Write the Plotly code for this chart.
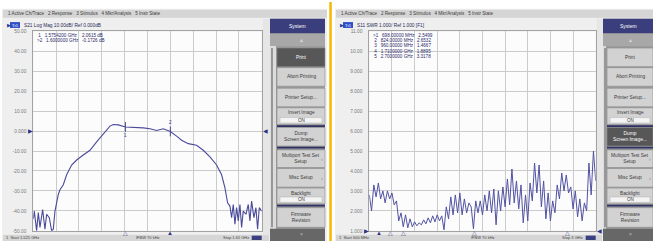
import numpy as np
import plotly.graph_objects as go

W, H = 653, 244

# ---------------- data ----------------
left_freq_ghz = [1.5250, 1.52555, 1.52682, 1.52774, 1.52865, 1.53011, 1.53138, 1.53230, 1.53376, 1.53503,
                 1.53594, 1.53686, 1.53868, 1.53959, 1.54142, 1.54324, 1.54598, 1.54871, 1.55236, 1.55601,
                 1.55966, 1.56330, 1.56695, 1.56878, 1.57151, 1.57542, 1.57972, 1.58519, 1.58884, 1.59249,
                 1.59614, 1.60000, 1.60343, 1.60617, 1.60982, 1.61438, 1.61802, 1.62167, 1.62532, 1.62806,
                 1.62988, 1.63134, 1.63262, 1.63353, 1.63444, 1.63535, 1.63626, 1.63718, 1.63809, 1.63900,
                 1.63991, 1.64137, 1.64265, 1.64356, 1.64447, 1.64575, 1.64684, 1.64775, 1.64867, 1.65000]
left_s21_db = [-44.0, -40.1, -50.0, -40.9, -48.3, -39.3, -49.2, -41.7, -43.4, -50.0,
               -49.2, -40.1, -31.8, -29.4, -26.9, -21.9, -17.0, -14.5, -12.0, -9.6,
               -5.4, -1.3, 2.5, 3.3, 3.1, 2.06, 2.0, 1.6, 1.2, 0.3,
               1.2, -0.17, -2.5, -4.6, -6.3, -7.1, -9.6, -12.9, -17.0, -21.9,
               -28.5, -36.0, -37.6, -43.4, -36.8, -46.7, -38.4, -45.0, -36.8, -48.3,
               -40.1, -41.7, -36.8, -45.0, -35.1, -43.4, -38.4, -49.2, -38.4, -40.1]
left_marker_freq_ghz = [1.57542, 1.60000]
left_marker_db = [2.0615, -0.1726]
left_start_ghz, left_stop_ghz = 1.525, 1.650
left_ytick_vals = [50, 40, 30, 20, 10, 0, -10, -20, -30, -40, -50]
left_ytick_text = ["50.00", "40.00", "30.00", "20.00", "10.00", "0.000",
                   "-10.00", "-20.00", "-30.00", "-40.00", "-50.00"]
left_readout = [" 1   1.5754200 GHz    2.0615 dB", ">2   1.6000000 GHz   -0.1726 dB"]

right_start_mhz, right_stop_mhz = 600, 3000
right_swr = [2.8, 2.0, 3.3, 2.7, 3.4, 2.6, 3.0, 2.4, 3.0, 2.6,
             2.9, 2.3, 2.5, 1.5, 1.9, 1.2, 1.8, 1.15, 1.6, 1.2,
             1.45, 1.25, 1.4, 1.3, 1.55, 1.35, 1.65, 1.4, 1.75, 1.45,
             1.8, 1.5, 1.75, 1.05, 2.2, 1.6, 2.7, 1.8, 2.8, 1.9,
             2.9, 1.8, 2.6, 1.9, 2.4, 2.2, 1.1, 2.5, 1.9, 2.5,
             1.8, 2.8, 2.0, 3.0, 1.9, 3.1, 1.3, 3.0, 2.0, 3.2,
             2.2, 3.6, 2.3, 4.1, 2.4, 3.5, 2.1, 3.3, 1.4, 2.8,
             1.5, 3.4, 2.5, 4.4, 2.9, 4.3, 2.2, 3.5, 1.6, 2.9,
             1.5, 2.5, 1.9, 3.3, 2.6, 3.9, 3.0, 3.8, 2.9, 3.2,
             2.1, 3.0, 1.7, 2.6, 1.5, 2.4, 2.0, 4.4, 2.8, 5.0,
             3.5]
right_freq_mhz = np.linspace(right_start_mhz, right_stop_mhz, len(right_swr))
right_marker_freq_mhz = [698, 824, 960, 1710, 2700]
right_ytick_vals = [11, 10, 9, 8, 7, 6, 5, 4, 3, 2, 1]
right_ytick_text = ["11.00", "10.00", "9.000", "8.000", "7.000", "6.000",
                    "5.000", "4.000", "3.000", "2.000", "1.000"]
right_readout = [">1   698.00000 MHz   2.5499", " 2   824.00000 MHz   2.6532",
                 " 3   960.00000 MHz   1.4667", " 4   1.7100000 GHz   1.8895",
                 " 5   2.7000000 GHz   3.3178"]

menu_text = "1 Active Ch/Trace   2 Response   3 Stimulus   4 Mkr/Analysis   5 Instr State"

# ---------------- helpers ----------------
def PX(x):
    return x / W

def PY(y):
    return 1 - y / H

shapes = []
annotations = []
FONT = "Liberation Sans, Arial, sans-serif"

def rect(x0, y0, x1, y1, fill, line=None, lw=0.6, layer="below"):
    shapes.append(dict(type="rect", xref="paper", yref="paper",
                       x0=PX(x0), x1=PX(x1), y0=PY(y1), y1=PY(y0),
                       fillcolor=fill, line=dict(color=line or fill, width=lw if line else 0),
                       layer=layer))

def txt(x, y, s, size=5, color="#333333", anchor="left", xref="paper", yref="paper", yanchor="middle"):
    annotations.append(dict(x=x, y=y, text=s, showarrow=False, xanchor=anchor, yanchor=yanchor,
                            xref=xref, yref=yref, borderpad=0,
                            font=dict(family=FONT, size=size, color=color)))

# yellow divider
rect(329.3, 0, 331.8, 244, "#f3b900")

panels = [
    dict(sx0=2, sx1=327, px0=33.3, px1=261.7, bx0=270, bi0=277, bx1=325, dark="Print",
         header="S21 Log Mag 10.00dB/ Ref 0.000dB", start="Start 1.525 GHz", stop="Stop 1.65 GHz"),
    dict(sx0=335, sx1=653, px0=369.3, px1=595.7, bx0=603, bi0=607, bx1=653, dark="Dump<br>Screen Image...",
         header="S11 SWR 1.000/ Ref 1.000 [F1]", start="Start 600 MHz", stop="Stop 3 GHz"),
]

buttons = [
    ("Print", 47, 66, None),
    ("Abort Printing", 67, 86, None),
    ("Printer Setup...", 88, 107, None),
    ("Invert Image", 108, 125, "ON"),
    ("Dump<br>Screen Image...", 128, 147, None),
    ("Multiport Test Set<br>Setup", 151, 169, None),
    ("Misc Setup", 170, 189, None),
    ("Backlight", 190, 206, "ON"),
    ("Firmware<br>Revision", 210, 230, None),
]

PLOT_TOP, PLOT_BOT = 30.0, 233.6

for p in panels:
    # screen background
    rect(p["sx0"], 7, p["sx1"], 244, "#efefef")
    # menu bar
    rect(p["sx0"] + 1, 8, p["sx1"], 16, "#d5d5d5")
    txt(PX(p["sx0"] + 5), PY(12), menu_text, size=4.6, color="#3a3a3a")
    # header line
    txt(PX(p["sx0"] + 4), PY(23.5), "▶", size=4.5, color="#2a3a9a")
    rect(p["sx0"] + 8, 20.5, p["sx0"] + 18, 26.5, "#2d4fc8")
    txt(PX(p["sx0"] + 13), PY(23.5), "Tr1", size=4.2, color="#ffffff", anchor="center")
    txt(PX(p["sx0"] + 21), PY(23.5), p["header"], size=4.8, color="#2a2a5a")
    # plot area
    rect(p["px0"], PLOT_TOP, p["px1"], PLOT_BOT, "#fcfcfc")
    # strip between plot and buttons
    rect(p["px1"] + 1, 17, p["bx0"], 237, "#e6e6e6")
    # status bar
    rect(p["sx0"] + 1, 237.5, p["bx0"] - 1, 244, "#d6d6d6")
    txt(PX(p["sx0"] + 3), PY(240.8), "1  " + p["start"], size=4.0, color="#444444")
    txt(PX((p["px0"] + p["px1"]) / 2), PY(240.8), "IFBW 70 kHz", size=4.0, color="#444444", anchor="center")
    txt(PX(p["px1"] - 12), PY(240.8), p["stop"], size=4.0, color="#444444", anchor="right")
    rect(p["px1"] - 10, 238.5, p["px1"], 243, "#3a3f80")
    # button column
    rect(p["bx0"], 17, p["bx1"], 244, "#9c9c9c")
    rect(p["bx0"], 17, p["bx1"], 32, "#3b3e7c")
    txt(PX((p["bx0"] + p["bx1"]) / 2), PY(24.5), "System", size=5, color="#ffffff", anchor="center")
    rect(p["bx0"], 32.5, p["bx1"], 45, "#a8a8a8")
    txt(PX((p["bi0"] + p["bx1"]) / 2), PY(39), "▲", size=5, color="#d8d8d8", anchor="center")
    rect(p["bx0"], 45, p["bi0"] - 1, 232, "#dcdcdc")
    shapes.append(dict(type="line", xref="paper", yref="paper", x0=PX(p["bx0"] + 2), x1=PX(p["bx0"] + 2),
                       y0=PY(230), y1=PY(47), line=dict(color="#555555", width=1)))
    for label, y0, y1, on in buttons:
        dark = (label == p["dark"])
        fill = "#575757" if dark else "#d2d2d2"
        rect(p["bi0"], y0, p["bx1"], y1, fill, line="#8a8a8a", lw=0.6)
        cx = (p["bi0"] + p["bx1"]) / 2
        col = "#ffffff" if dark else "#3a3a3a"
        if on:
            txt(PX(cx), PY(y0 + 5), label, size=4.8, color=col, anchor="center")
            rect(p["bi0"] + 3, y1 - 7, p["bx1"] - 3, y1 - 1.5, "#f4f4f4", line="#b0b0b0", lw=0.5)
            txt(PX(cx), PY(y1 - 4.2), on, size=4.6, color="#3a3a3a", anchor="center")
        else:
            txt(PX(cx), PY((y0 + y1) / 2), label, size=4.8, color=col, anchor="center")
        if label.startswith("Multiport") or label.startswith("Misc"):
            txt(PX(p["bx1"] - 1.5), PY((y0 + y1) / 2), "›", size=5, color="#888888", anchor="right")
    for ly in (126.8, 148.6, 208.0):
        rect(p["bi0"], ly - 0.9, p["bx1"], ly + 0.9, "#2e3166")
    rect(p["bx0"], 231.5, p["bx1"], 244, "#676767")
    txt(PX((p["bi0"] + p["bx1"]) / 2), PY(237), "▼", size=5, color="#9a9a9a", anchor="center")

# readouts
for i, s in enumerate(left_readout):
    txt(PX(36), PY(34.5 + i * 5.2), s.replace(" ", "&nbsp;"), size=4.6, color="#2a2a6a")
for i, s in enumerate(right_readout):
    txt(PX(372), PY(34.5 + i * 5.2), s.replace(" ", "&nbsp;"), size=4.6, color="#2a2a6a")

# stimulus marker triangles under the grids
for i, f in enumerate(left_marker_freq_ghz):
    txt(f, PY(236.2), "▲" if i == 1 else "△", size=6, color="#2e3080", anchor="center", xref="x")
for i, f in enumerate(right_marker_freq_mhz):
    txt(f, PY(236.2), "▲" if i == 0 else "△", size=6, color="#2e3080", anchor="center", xref="x2")

# reference-level pointers
txt(PX(33.5), 0, "▶", size=6, color="#2e3080", anchor="right", yref="y")
txt(PX(261.5), 0, "◀", size=6, color="#2e3080", anchor="left", yref="y")
txt(PX(369.5), 1, "▶", size=6, color="#2e3080", anchor="right", yref="y2")
txt(PX(595.5), 1, "◀", size=6, color="#2e3080", anchor="left", yref="y2")

# marker labels on left trace
txt(left_marker_freq_ghz[0], left_marker_db[0] - 4.2, "1", size=4.5, color="#2e3080", anchor="center", xref="x", yref="y")
txt(left_marker_freq_ghz[1], left_marker_db[1] + 4.5, "2", size=4.5, color="#2e3080", anchor="center", xref="x", yref="y")

fig = go.Figure()
fig.add_trace(go.Scatter(x=left_freq_ghz, y=left_s21_db, mode="lines",
                         line=dict(color="#4a4a9c", width=1.1), xaxis="x", yaxis="y", hoverinfo="skip"))
fig.add_trace(go.Scatter(x=left_marker_freq_ghz, y=left_marker_db, mode="markers",
                         marker=dict(symbol="line-ns-open", size=7, color="#4a4a9c", line=dict(width=1, color="#4a4a9c")),
                         xaxis="x", yaxis="y", hoverinfo="skip"))
fig.add_trace(go.Scatter(x=right_freq_mhz, y=right_swr, mode="lines",
                         line=dict(color="#5252a4", width=1.0), xaxis="x2", yaxis="y2", hoverinfo="skip"))

ydom = [PY(PLOT_BOT), PY(PLOT_TOP)]
grid = "#cbcbcb"
axcommon = dict(showgrid=True, gridcolor=grid, gridwidth=1, zeroline=False, showline=True,
                linecolor="#a2a2a2", linewidth=1, mirror=True, fixedrange=True)
fig.update_layout(
    width=W, height=H, autosize=False,
    margin=dict(l=0, r=0, t=0, b=0, pad=0),
    paper_bgcolor="#ffffff", plot_bgcolor="rgba(0,0,0,0)",
    showlegend=False,
    xaxis=dict(domain=[PX(33.3), PX(261.7)], range=[left_start_ghz, left_stop_ghz],
               tick0=left_start_ghz, dtick=(left_stop_ghz - left_start_ghz) / 10,
               showticklabels=False, ticks="", anchor="y", **axcommon),
    yaxis=dict(domain=ydom, range=[-50, 50], tickvals=left_ytick_vals, ticktext=left_ytick_text,
               ticks="", ticklabelstandoff=5, tickfont=dict(family=FONT, size=4.8, color="#7a7a7a"),
               anchor="x", **axcommon),
    xaxis2=dict(domain=[PX(369.3), PX(595.7)], range=[right_start_mhz, right_stop_mhz],
                tick0=right_start_mhz, dtick=(right_stop_mhz - right_start_mhz) / 10,
                showticklabels=False, ticks="", anchor="y2", **axcommon),
    yaxis2=dict(domain=ydom, range=[1, 11], tickvals=right_ytick_vals, ticktext=right_ytick_text,
                ticks="", ticklabelstandoff=5, tickfont=dict(family=FONT, size=4.8, color="#7a7a7a"),
                anchor="x2", **axcommon),
    shapes=shapes, annotations=annotations,
)

fig.write_html("out.html", config={"displayModeBar": False},
               post_script="document.body.style.margin='0';document.body.style.overflow='hidden';")
